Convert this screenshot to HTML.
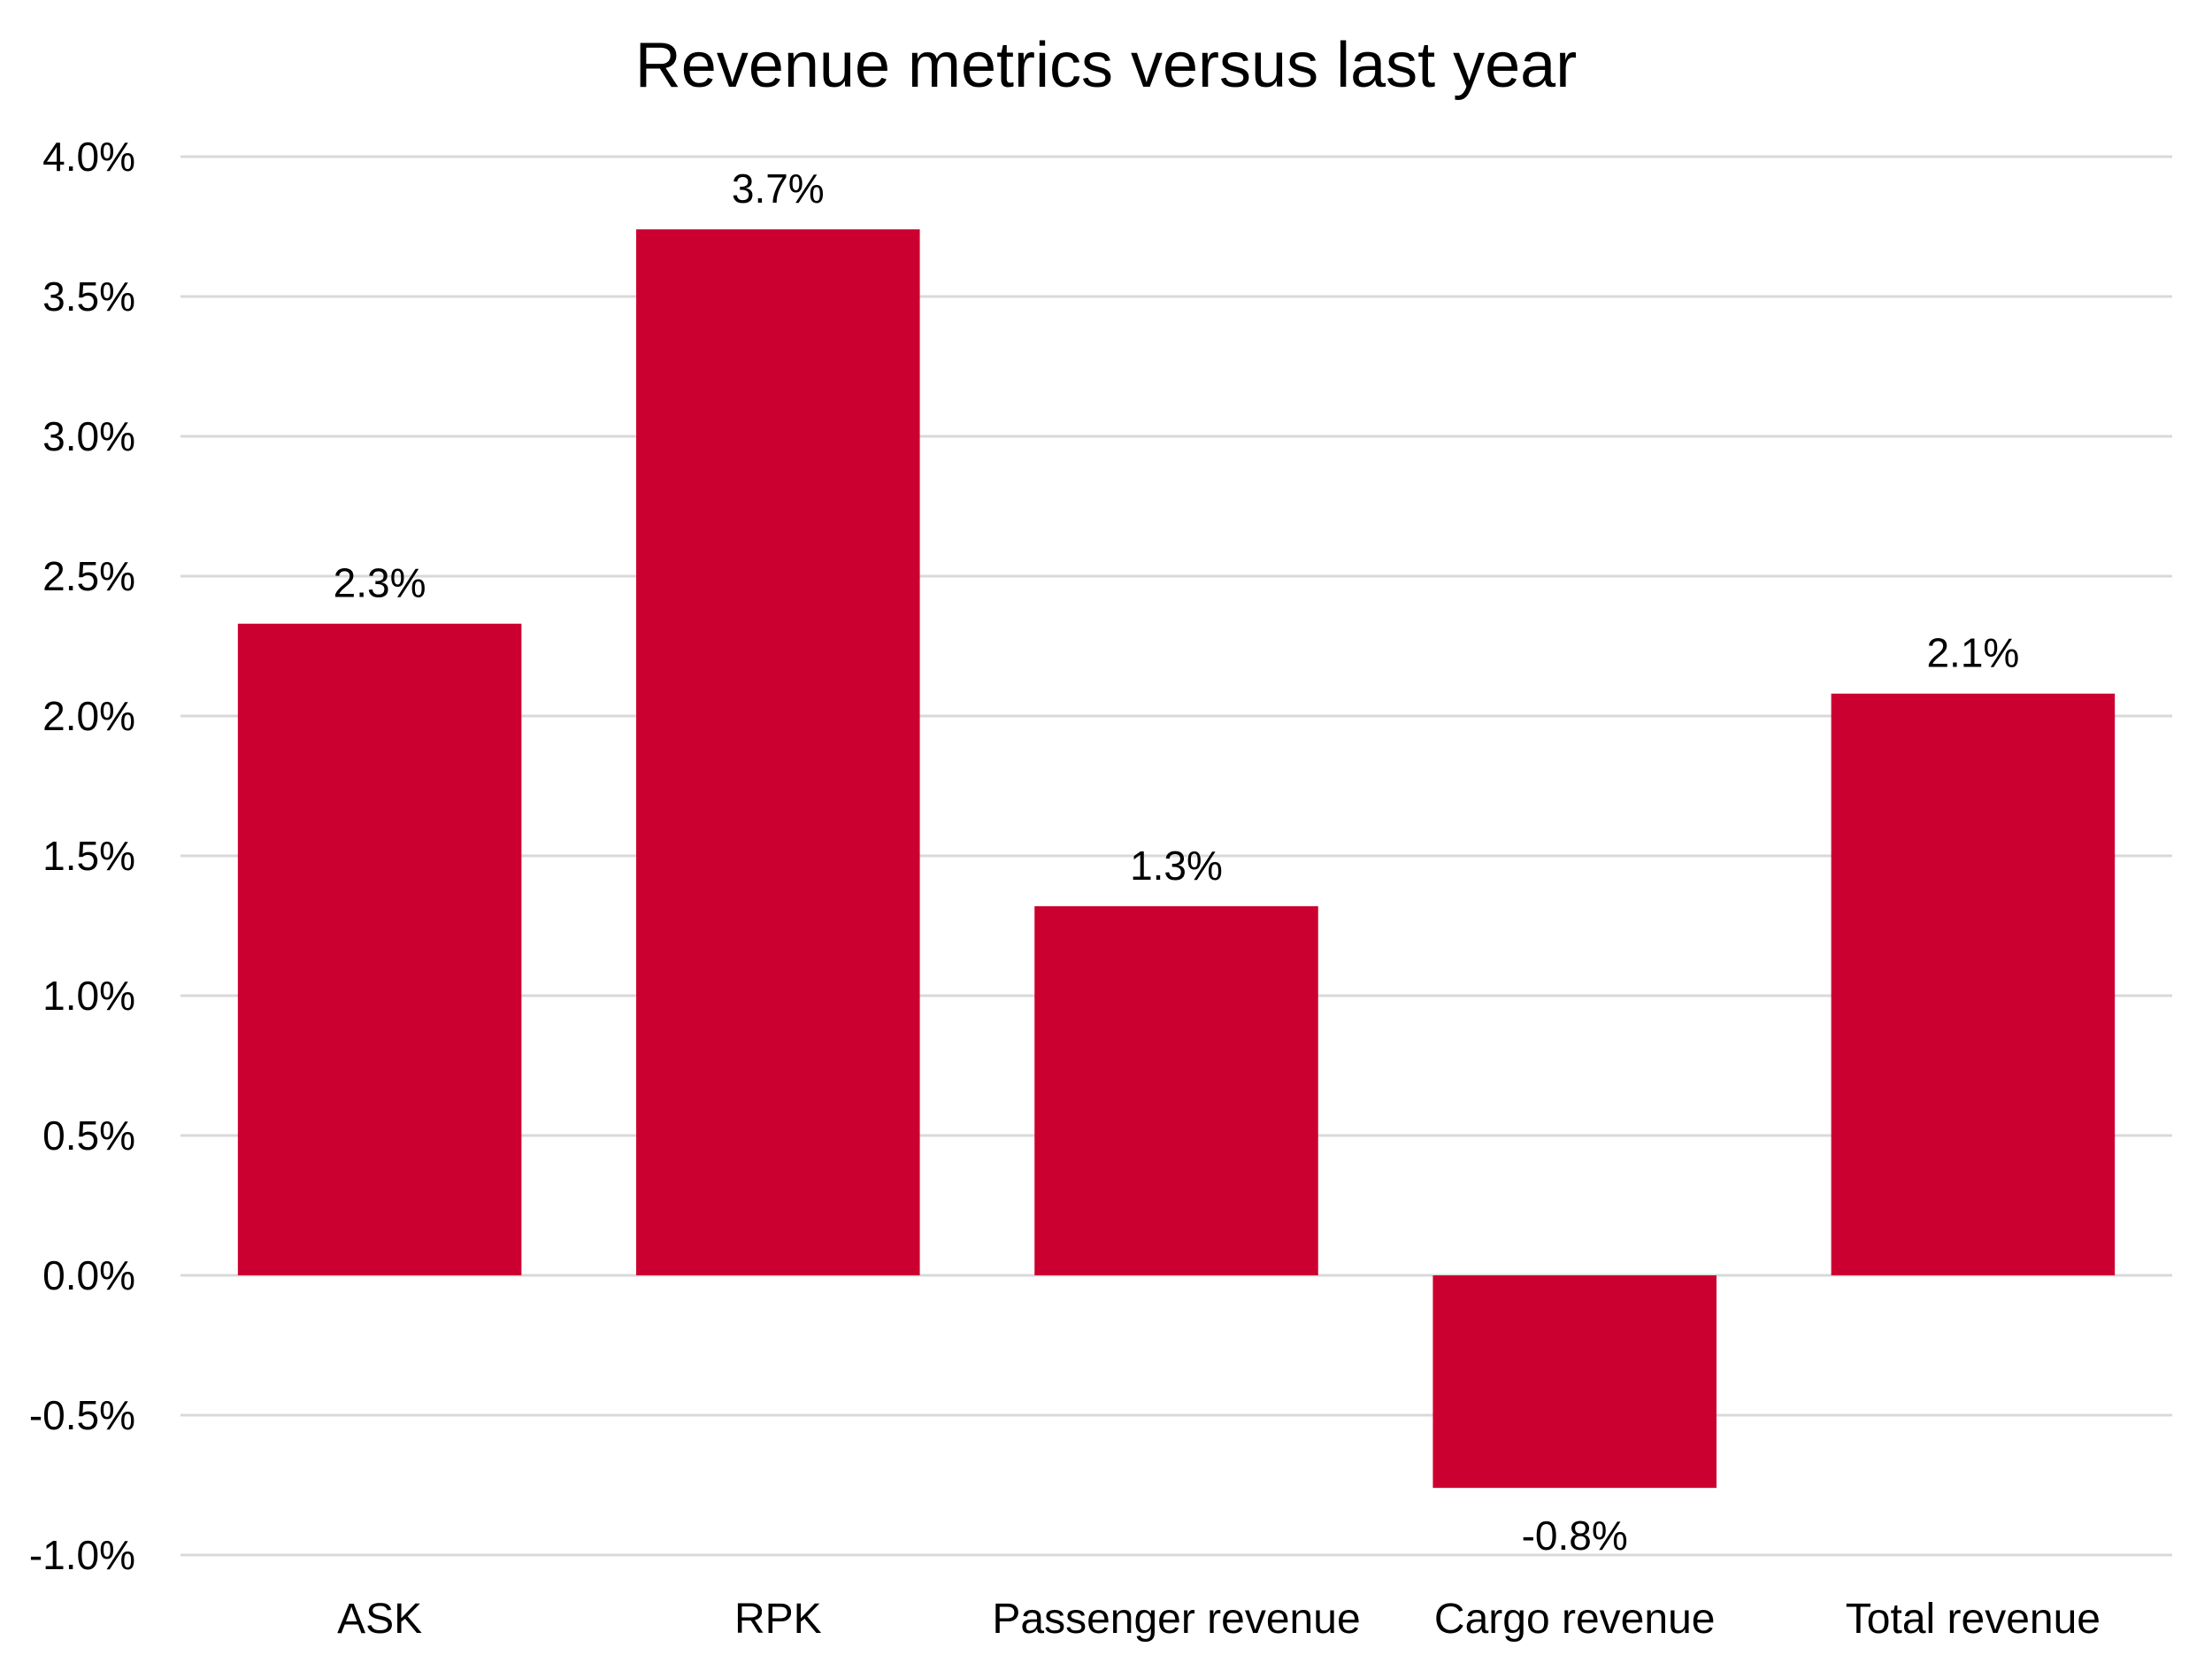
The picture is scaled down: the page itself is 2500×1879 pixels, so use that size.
<!DOCTYPE html>
<html><head><meta charset="utf-8"><style>
html,body{margin:0;padding:0;background:#fff}
svg{display:block}
text{font-family:"Liberation Sans",sans-serif;fill:#000}
</style></head><body>
<svg id="chart" width="2500" height="1879" viewBox="0 0 2500 1879" xmlns="http://www.w3.org/2000/svg">
<text x="1250" y="98" font-size="72" text-anchor="middle">Revenue metrics versus last year</text>
<g id="grid"></g>
<g id="yticks"></g>
<g id="bars"></g>
<g id="labels"></g>
<g id="xticks"></g>
</svg>
<script>
const categories = ["ASK","RPK","Passenger revenue","Cargo revenue","Total revenue"];
const values = [2.33,3.74,1.32,-0.76,2.08];
const valueLabels = ["2.3%","3.7%","1.3%","-0.8%","2.1%"];
const yTicks = [4.0,3.5,3.0,2.5,2.0,1.5,1.0,0.5,0.0,-0.5,-1.0];
const yTickLabels = ["4.0%","3.5%","3.0%","2.5%","2.0%","1.5%","1.0%","0.5%","0.0%","-0.5%","-1.0%"];

const NS="http://www.w3.org/2000/svg";
const plotL=204, plotR=2455, yTop=177, yBot=1757, vMax=4, vMin=-1;
function y(v){return yTop+(vMax-v)*(yBot-yTop)/(vMax-vMin);}
const band=(plotR-plotL)/categories.length;
function xc(i){return plotL+band*(i+0.5);}
const bw=band*0.712;
function mk(tag,attrs,parent){const e=document.createElementNS(NS,tag);for(const k in attrs)e.setAttribute(k,attrs[k]);parent.appendChild(e);return e;}
const grid=document.getElementById('grid'),yt=document.getElementById('yticks'),bars=document.getElementById('bars'),labs=document.getElementById('labels'),xt=document.getElementById('xticks');
yTicks.forEach((t,i)=>{
  const l=mk('line',{x1:plotL,x2:plotR,y1:y(t),y2:y(t),stroke:'#d9d9d9','stroke-width':3},grid);
  
  
  const tx=mk('text',{x:153,y:y(t)+16,'font-size':46,'text-anchor':'end'},yt);
  tx.textContent=yTickLabels[i];
  
  
});
values.forEach((v,i)=>{
  const top=Math.min(y(v),y(0)), h=Math.abs(y(v)-y(0));
  const r=mk('rect',{x:xc(i)-bw/2,y:top,width:bw,height:h,fill:'#cc0030'},bars);
  
  
  const ly = v>=0 ? y(v)-30 : y(v)+70;
  const t=mk('text',{x:xc(i),y:ly,'font-size':46,'text-anchor':'middle'},labs);
  t.textContent=valueLabels[i];
  
  
  const c=mk('text',{x:xc(i),y:1845,'font-size':48,'text-anchor':'middle'},xt);
  c.textContent=categories[i];
  
  
});
</script>
</body></html>
